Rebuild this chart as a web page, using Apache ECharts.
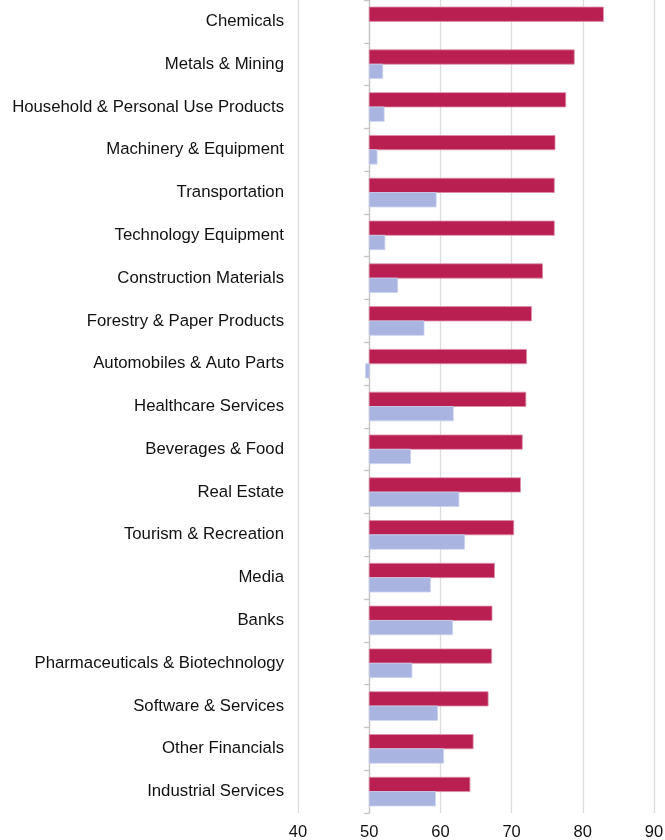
<!DOCTYPE html>
<html>
<head>
<meta charset="utf-8">
<script src="https://cdn.jsdelivr.net/npm/echarts@6/dist/echarts.min.js"></script>
<style>
html,body{margin:0;padding:0;background:#fff;}
#chart{width:665px;height:840px;}
</style>
</head>
<body>
<div id="chart"></div>
<script>
const categories = [
  "Chemicals","Metals & Mining","Household & Personal Use Products","Machinery & Equipment",
  "Transportation","Technology Equipment","Construction Materials","Forestry & Paper Products",
  "Automobiles & Auto Parts","Healthcare Services","Beverages & Food","Real Estate",
  "Tourism & Recreation","Media","Banks","Pharmaceuticals & Biotechnology",
  "Software & Services","Other Financials","Industrial Services"
];
const seriesA = [82.9,78.8,77.6,76.1,76.0,76.0,74.35,72.8,72.1,72.0,71.5,71.25,70.3,67.6,67.25,67.2,66.7,64.6,64.15];
const seriesB = [50.0,51.9,52.1,51.1,59.4,52.2,54.0,57.7,49.5,61.8,55.8,62.6,63.4,58.6,61.7,56.0,59.6,60.45,59.3];
const xTicks = [40,50,60,70,80,90];
const baseline = 50;

const xMin = xTicks[0], xMax = xTicks[xTicks.length-1];
const gridLeft = 298, gridRight = 11;
const gridWidth = 665 - gridLeft - gridRight;
const baseOffset = -gridWidth * (baseline - xMin) / (xMax - xMin);

function makeRender(pos, fill, stroke) {
  return function (params, api) {
    const cat = api.value(1);
    const val = api.value(0);
    const p0 = api.coord([baseline, cat]);
    const p1 = api.coord([val, cat]);
    const band = api.size([0, 1])[1];
    const h = band * 0.335;
    const y = pos === 0 ? p0[1] - h : p0[1];
    const x = Math.min(p0[0], p1[0]);
    const w = Math.abs(p1[0] - p0[0]);
    return {
      type: 'rect',
      shape: { x: x, y: y, width: w, height: h },
      style: { fill: fill, stroke: w > 0.5 ? stroke : null, lineWidth: 0.8 }
    };
  };
}

const chart = echarts.init(document.getElementById('chart'), null, { renderer: 'canvas' });
chart.setOption({
  animation: false,
  textStyle: { fontFamily: 'Liberation Sans, Arial, sans-serif' },
  grid: { left: gridLeft, right: gridRight, top: 0, bottom: 27, containLabel: false, outerBoundsMode: 'none' },
  xAxis: {
    type: 'value', min: xMin, max: xMax, interval: 10,
    axisLine: { show: false }, axisTick: { show: false },
    axisLabel: { fontSize: 16.5, color: '#111', margin: 11, fontFamily: 'Liberation Sans, Arial, sans-serif' },
    splitLine: { show: true, lineStyle: { color: '#dcdcdc', width: 1.3 } }
  },
  yAxis: [
    {
      type: 'category', data: categories, inverse: true, position: 'left',
      axisLine: { show: false }, axisTick: { show: false },
      axisLabel: { fontSize: 16.75, color: '#111', margin: 14, fontFamily: 'Liberation Sans, Arial, sans-serif' },
      splitLine: { show: false }
    },
    {
      type: 'category', data: categories, inverse: true, position: 'left', offset: baseOffset,
      axisLine: { show: true, lineStyle: { color: '#c4c4c4', width: 1.3 } },
      axisTick: { show: true, length: 5, lineStyle: { color: '#c4c4c4', width: 1.3 } },
      axisLabel: { show: false },
      splitLine: { show: false }
    }
  ],
  series: [
    {
      type: 'custom', name: 'A', xAxisIndex: 0, yAxisIndex: 0,
      renderItem: makeRender(0, '#B91F51', '#dd8fa9'),
      encode: { x: 0, y: 1 },
      data: seriesA.map((v, i) => [v, i]),
      z: 3
    },
    {
      type: 'custom', name: 'B', xAxisIndex: 0, yAxisIndex: 0,
      renderItem: makeRender(1, '#A9B4E0', '#c9d0ee'),
      encode: { x: 0, y: 1 },
      data: seriesB.map((v, i) => [v, i]),
      z: 3
    }
  ]
});
</script>
</body>
</html>
